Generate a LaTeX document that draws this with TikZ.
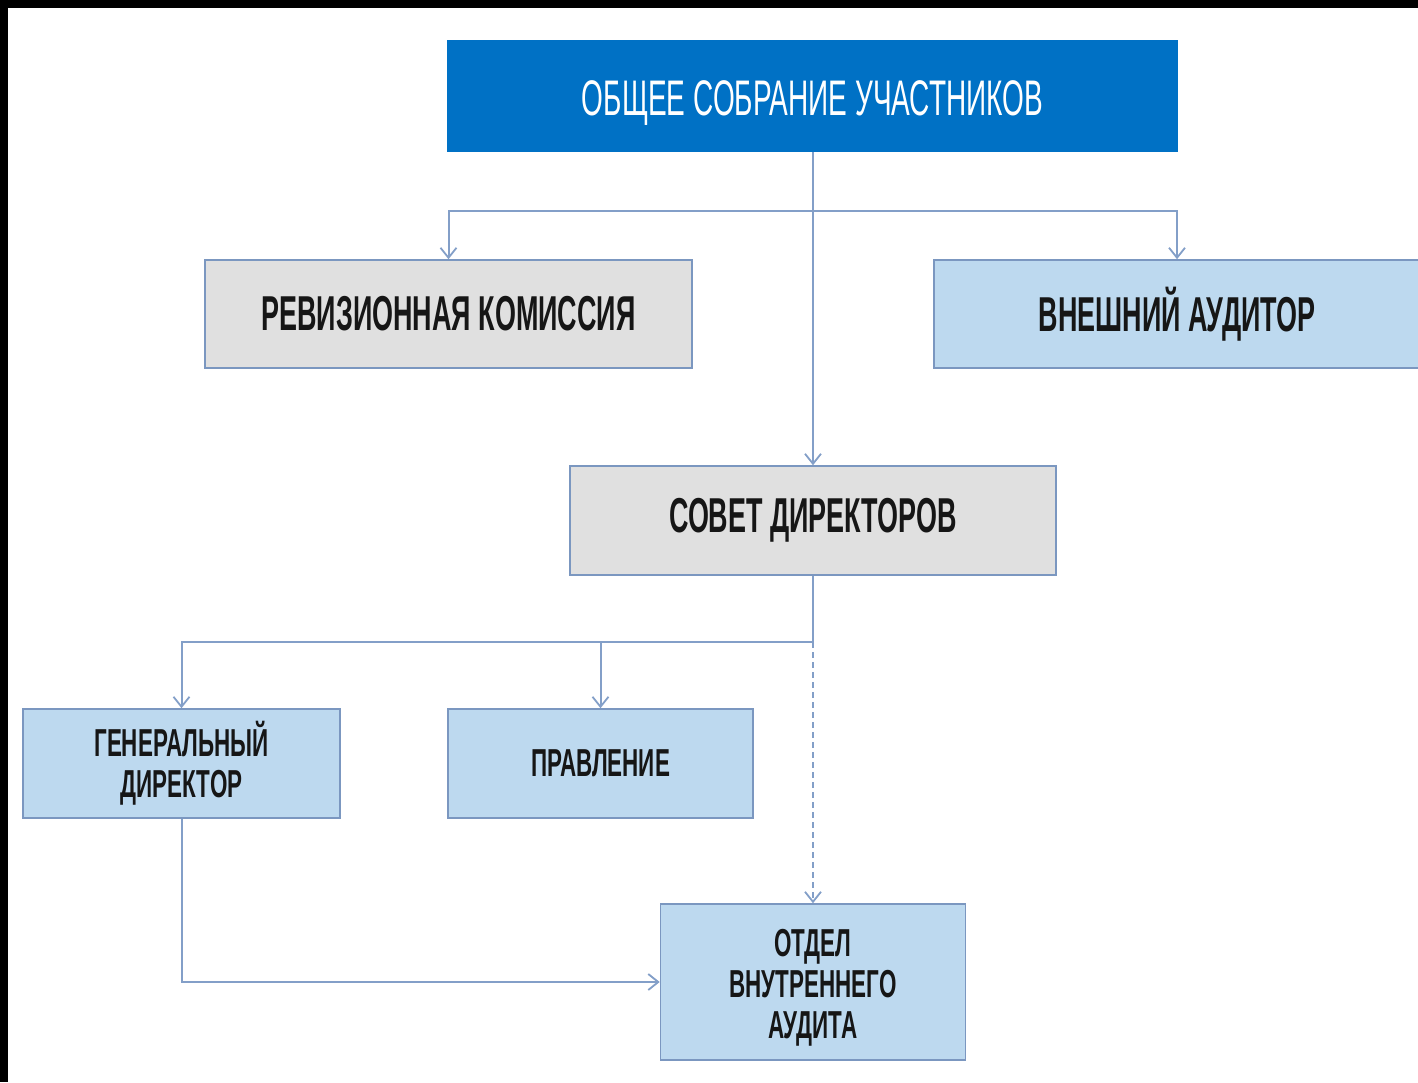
\documentclass[tikz,border=0pt]{standalone}
\usepackage{fontspec}
\usetikzlibrary{arrows.meta}
\newfontfamily\condreg{Liberation Sans}[FakeStretch=0.56]
\newfontfamily\condbold{Liberation Sans Bold}[FakeStretch=0.55]
\newfontfamily\condboldsm{Liberation Sans Bold}[FakeStretch=0.575]
\definecolor{topblue}{HTML}{0071C5}
\definecolor{boxgray}{HTML}{E0E0E0}
\definecolor{boxblue}{HTML}{BDD9EF}
\definecolor{edge}{HTML}{7B97C0}
\definecolor{linec}{HTML}{839FC8}
\definecolor{txt}{HTML}{161616}
\tikzset{
  base/.style={draw=edge, line width=0.8pt, inner sep=0pt, align=center, text=txt},
  topbox/.style={fill=topblue, draw=none, text=white, font=\condreg\fontsize{25}{28}\selectfont},
  graybox/.style={base, fill=boxgray, font=\condbold\fontsize{24.5}{28}\selectfont},
  bluebig/.style={base, fill=boxblue, font=\condbold\fontsize{24.5}{28}\selectfont},
  bluesmall/.style={base, fill=boxblue, font=\condboldsm\fontsize{19.5}{20.5}\selectfont},
  conn/.style={draw=linec, line width=1pt, -{Straight Barb[length=5pt,width=8pt,line width=0.9pt]}},
  dconn/.style={conn, dash pattern=on 3pt off 2pt}
}
\begin{document}
\begin{tikzpicture}[x=0.5pt,y=-0.5pt]
\useasboundingbox (0,0) rectangle (1418,1082);
\clip (0,0) rectangle (1418,1082);
\fill[black] (0,0) rectangle (1418,1082);
\fill[white] (8,8) rectangle (1418,1082);

\node[topbox, minimum width=365.5pt, minimum height=56pt] (top) at (812.5,96) {\raisebox{-3.5pt}[\height][\depth]{ОБЩЕЕ СОБРАНИЕ УЧАСТНИКОВ}};
\node[graybox, minimum width=243.5pt, minimum height=54pt] (rk) at (448.5,314) {РЕВИЗИОННАЯ КОМИССИЯ};
\node[bluebig, minimum width=243pt, minimum height=54pt] (va) at (1177,314) {ВНЕШНИЙ АУДИТОР};
\node[graybox, minimum width=243pt, minimum height=54.5pt] (sd) at (813,520.5) {СОВЕТ ДИРЕКТОРОВ};
\node[bluesmall, minimum width=158.5pt, minimum height=54.5pt] (gd) at (181.5,763.5) {ГЕНЕРАЛЬНЫЙ\\ДИРЕКТОР};
\node[bluesmall, minimum width=152.5pt, minimum height=54.5pt] (pr) at (600.5,763.5) {ПРАВЛЕНИЕ};
\node[bluesmall, minimum width=152.5pt, minimum height=78pt] (ov) at (813,982) {\raisebox{-3.5pt}[\height][\depth]{\begin{tabular}{@{}c@{}}ОТДЕЛ\\ВНУТРЕННЕГО\\АУДИТА\end{tabular}}};

\coordinate (h1) at (813,211);
\coordinate (h2) at (813,642);

\draw[conn] (top.south -| sd.north) -- (sd.north);
\draw[conn] (h1) -| (rk.north);
\draw[conn] (h1) -| (va.north);
\draw[conn] (sd.south) -- (h2) -| (gd.north);
\draw[conn] (h2) -| (pr.north);
\draw[dconn] (h2) -- (ov.north);
\draw[conn] (gd.south) |- (ov.west);
\end{tikzpicture}
\end{document}
